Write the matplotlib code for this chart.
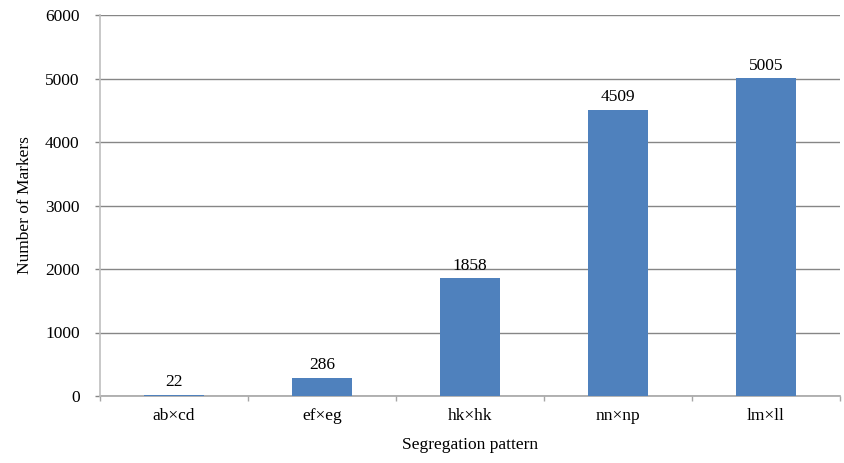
import matplotlib

matplotlib.use("Agg")
import matplotlib.pyplot as plt
import numpy as np

categories = ["ab×cd", "ef×eg", "hk×hk", "nn×np", "lm×ll"]
counts = [22, 286, 1858, 4509, 5005]
y_ticks = [0, 1000, 2000, 3000, 4000, 5000, 6000]

plt.rcParams["font.family"] = ["Liberation Serif", "DejaVu Serif"]
FS = 12.5

fig = plt.figure(figsize=(8.45, 4.63), dpi=100)
ax = fig.add_axes([100 / 845, 1 - 396 / 463, 740 / 845, 381 / 463])

x = np.arange(len(categories))
ax.bar(x, counts, width=0.4, color="#4F81BD", zorder=3)
for xi, v in zip(x, counts):
    ax.text(xi, v + 70, str(v), ha="center", va="bottom", fontsize=FS)

ax.set_xlim(-0.5, len(categories) - 0.5)
ax.set_ylim(0, 6000)
ax.set_yticks(y_ticks)
ax.set_yticklabels([str(t) for t in y_ticks], fontsize=FS)
ax.set_xticks(x)
ax.set_xticklabels(categories, fontsize=FS)
ax.tick_params(axis="x", length=0, pad=9)
ax.set_xticks(np.arange(-0.5, len(categories)), minor=True)
ax.tick_params(axis="x", which="minor", length=3.6, color="#A6A6A6", width=1)
ax.tick_params(axis="y", length=3.6, color="#868686", width=1, pad=11)

ax.grid(axis="y", color="#868686", linewidth=1, zorder=0)
for side in ("top", "right"):
    ax.spines[side].set_visible(False)
ax.spines["left"].set_color("#BFBFBF")
ax.spines["bottom"].set_color("#A6A6A6")
ax.spines["left"].set_linewidth(1.2)
ax.spines["bottom"].set_linewidth(1.2)
ax.spines["bottom"].set_zorder(2)

ax.set_xlabel("Segregation pattern", fontsize=FS, labelpad=9)
ax.set_ylabel("Number of Markers", fontsize=FS, labelpad=9)

fig.savefig("out.png", dpi=100)
plt.close(fig)
